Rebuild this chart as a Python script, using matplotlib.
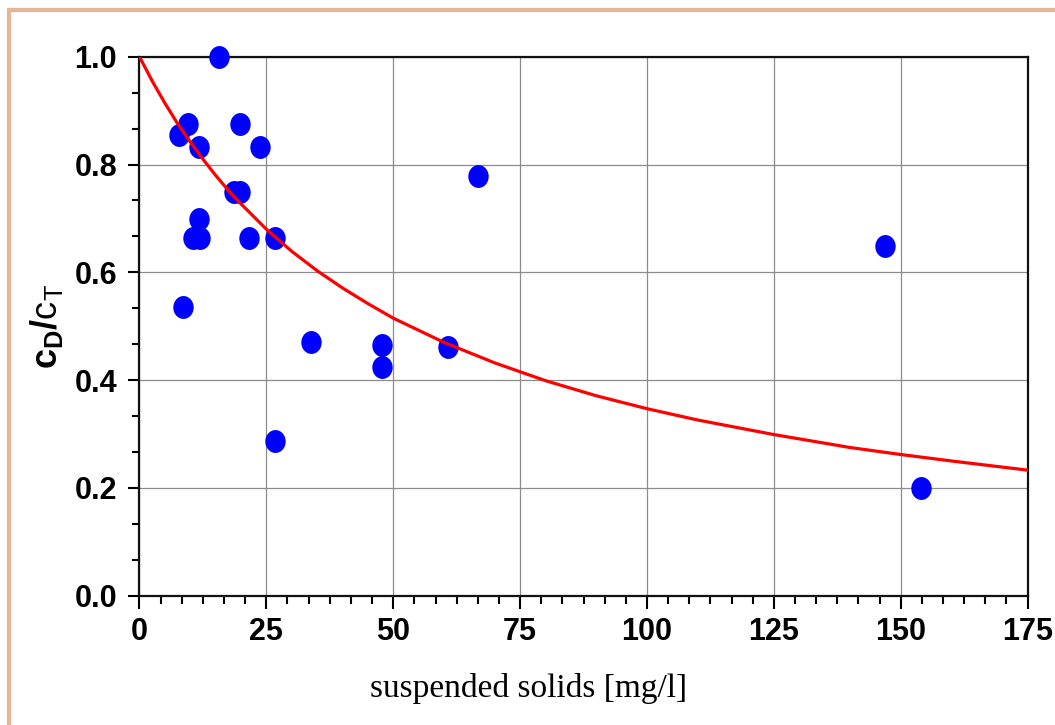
import matplotlib
matplotlib.use("Agg")
import matplotlib.pyplot as plt
from matplotlib.path import Path
from matplotlib.transforms import Affine2D
from matplotlib.ticker import AutoMinorLocator
from matplotlib.lines import Line2D

# ---- data ----
ss_mg_l = [15.7, 7.8, 9.6, 11.7, 19.8, 23.8, 18.6, 19.8, 11.7, 10.6, 11.9,
           21.6, 26.7, 8.6, 66.8, 33.8, 47.8, 47.8, 60.8, 26.7, 147.0, 154.0]
cd_ct = [1.0, 0.855, 0.875, 0.832, 0.875, 0.832, 0.749, 0.749, 0.699, 0.664, 0.664,
         0.664, 0.664, 0.536, 0.779, 0.470, 0.465, 0.424, 0.461, 0.287, 0.649, 0.200]

curve_x = [0, 2.5, 5, 7.5, 10, 12.5, 15, 17.5, 20, 25, 30, 35, 40, 45, 50, 60, 70, 80,
           90, 100, 110, 125, 140, 150, 160, 175]
curve_y = [1.0, 0.955, 0.914, 0.876, 0.842, 0.810, 0.780, 0.752, 0.727, 0.680, 0.639,
           0.603, 0.571, 0.542, 0.515, 0.470, 0.432, 0.399, 0.371, 0.347, 0.326, 0.299,
           0.275, 0.262, 0.250, 0.233]

x_ticks = [0, 25, 50, 75, 100, 125, 150, 175]
y_ticks = [0.0, 0.2, 0.4, 0.6, 0.8, 1.0]
y_ticklabels = ["0.0", "0.2", "0.4", "0.6", "0.8", "1.0"]

plt.rcParams["mathtext.fontset"] = "custom"
plt.rcParams["mathtext.rm"] = "Liberation Sans"
plt.rcParams["mathtext.bf"] = "Liberation Sans:bold"
plt.rcParams["mathtext.it"] = "Liberation Sans"

fig = plt.figure(figsize=(10.55, 7.25), dpi=100)
ax = fig.add_axes([0.1322, 0.1783, 0.8418, 0.7435])

# decorative border (left + top)
border_col = "#E5B596"
fig.add_artist(Line2D([8.5/1055, 8.5/1055], [0, 1 - 8.5/725], transform=fig.transFigure,
                      color=border_col, lw=3, solid_capstyle="butt"))
fig.add_artist(Line2D([7/1055, 1], [1 - 9.5/725, 1 - 9.5/725], transform=fig.transFigure,
                      color=border_col, lw=3, solid_capstyle="butt"))

ellipse = Path.unit_circle().transformed(Affine2D().scale(0.89, 1.0))
ax.plot(ss_mg_l, cd_ct, linestyle="none", marker=ellipse, markersize=16.5,
        color="#0000FF", markeredgewidth=0, zorder=6, clip_on=False)
ax.plot(curve_x, curve_y, color="#FF0000", lw=2.3, zorder=7)

ax.set_xlim(0, 175)
ax.set_ylim(0, 1.0)
ax.set_xticks(x_ticks)
ax.set_yticks(y_ticks)
ax.set_yticklabels(y_ticklabels)
ax.xaxis.set_minor_locator(AutoMinorLocator(6))
ax.yaxis.set_minor_locator(AutoMinorLocator(3))

ax.grid(True, which="major", color="#8c8c8c", lw=0.9, zorder=0)
ax.set_axisbelow(True)
for s in ax.spines.values():
    s.set_color("#111111")
    s.set_linewidth(1.6)
    s.set_zorder(5)

ax.tick_params(axis="both", which="major", direction="out", width=1.5, color="black")
ax.tick_params(axis="x", which="major", length=9, pad=6)
ax.tick_params(axis="y", which="major", length=8, pad=8)
ax.tick_params(axis="x", which="minor", direction="out", length=5.5, width=1.5)
ax.tick_params(axis="y", which="minor", direction="out", length=5, width=1.5)
for lab in ax.get_xticklabels() + ax.get_yticklabels():
    lab.set_fontfamily("Liberation Sans")
    lab.set_fontweight("bold")
    lab.set_fontsize(22)

ax.set_xlabel("suspended solids [mg/l]", fontfamily="Liberation Serif", fontsize=24)
ax.xaxis.set_label_coords((528.5 - 139.5) / 888.0, -(688 - 595.7) / 539.0, transform=ax.transAxes)
ax.xaxis.label.set_va("center")
ax.set_ylabel(r"$\mathbf{c_D/}\mathrm{c_T}$", fontsize=26)
ax.yaxis.set_label_coords(-(139.5 - 47) / 888.0, 0.5, transform=ax.transAxes)
ax.yaxis.label.set_va("center")

fig.savefig("out.png", dpi=100, facecolor="white")
